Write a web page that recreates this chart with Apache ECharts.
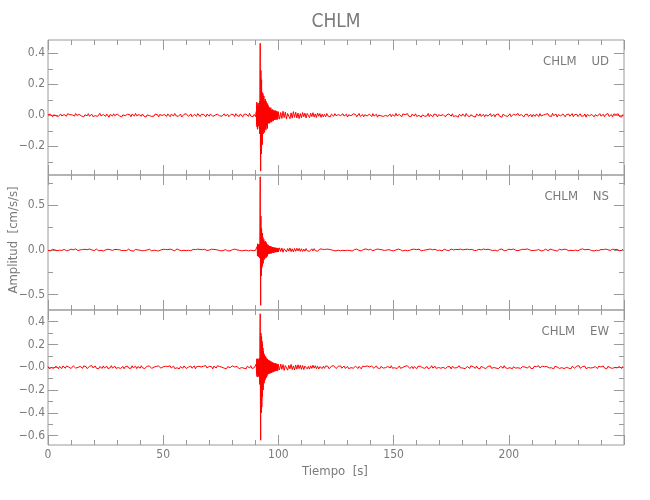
<!DOCTYPE html>
<html>
<head>
<meta charset="utf-8">
<script src="https://cdn.jsdelivr.net/npm/echarts@6.0.0/dist/echarts.min.js"></script>
<style>
html,body{margin:0;padding:0;background:#fff;}
#chart{width:650px;height:500px;}
</style>
</head>
<body>
<div id="chart"></div>
<script>
// ---------------- DATA ----------------
// Acceleration samples in mGal (1 mGal = 0.001 cm/s/s)
// Sampling: pre-event 0.0–89.5 s every 0.5 s; event 90.0–99.9 s every 0.1 s; post-event 100.0–249.5 s every 0.5 s
const PRE_START = 0.0, PRE_DT = 0.5;
const EVT_START = 90.0, EVT_DT = 0.1;
const POST_START = 100.0, POST_DT = 0.5;
const X_MAX = 249.99;

const componentNames = ['UD', 'NS', 'EW'];
const stationName = 'CHLM';

const udPre = [
3,-5,8,-2,-9,4,11,-3,6,-7,2,9,-4,-11,5,1,-6,10,-2,4,
-8,3,7,-5,12,-1,-9,6,2,-4,8,-10,3,5,-3,11,-6,0,7,-8,
4,-2,9,-7,1,13,-4,-9,5,2,-6,8,-1,-12,6,3,-5,10,-3,-7,
9,1,-4,6,-10,3,11,-2,-6,7,-1,4,-9,8,2,-5,12,-3,-8,5,
0,-6,9,-4,7,-11,3,6,-2,10,-7,1,-5,8,-3,4,-10,6,11,-1,
-8,5,2,-6,9,-3,-9,7,1,-4,12,-2,5,-7,3,8,-11,0,6,-5,
10,-2,-7,4,9,-9,1,6,-3,-6,11,2,-8,5,-1,7,-4,-10,8,3,
-5,9,-2,-7,4,1,-11,7,5,-3,8,-6,2,10,-4,-1,6,-9,3,7,
-3,5,-8,11,-2,4,-6,9,1,-10,6,-4,8,2,-7,13,-5,3,-9,6];
const udEvt = [
5,-8,6,-3,
25,-60,85,-75,55,-90,70,-50,80,-65,45,-70,60,-85,90,
-120,250,465,-200,-360,290,180,-250,230,-170,150,-190,130,-110,140,-120,
115,-100,125,-90,80,-110,95,-75,105,-85,70,-95,90,-65,80,-70,60,-85,75,-55,65,
-50,45,-40,55,-35,48,-52,30,-45,42,-38,50,-30,36,-44,28,-40,34,-25,38,
-32,27,-36,30,-22,33,-28,24,-30,20,-26,31,-18,25,-29,22,-17,28,-24,19,-27,15,-21,24];
const udPost = [
22,-25,18,-20,26,-15,21,-24,12,19,-22,16,-18,24,-13,20,-17,14,-21,11,
-16,18,-9,14,-17,12,6,-15,13,-8,17,-11,9,-14,15,-6,11,-13,8,-10,
6,-9,12,-4,3,-10,8,1,-6,11,-3,-8,5,9,-2,-7,10,-5,2,7,
-11,4,8,-3,-6,10,-1,5,-9,3,12,-7,-2,6,-10,4,9,-4,-6,8,
1,-8,11,-5,3,7,-12,2,6,-3,9,-7,4,-1,10,-6,-4,8,-9,5,
2,-6,13,-3,-8,6,1,-10,9,-2,4,-7,11,-5,3,-9,7,2,-4,10,
-7,5,-1,8,-11,3,9,-6,2,-4,12,-8,5,1,-9,7,-3,6,-10,4,
11,-2,-7,5,8,-10,3,-4,9,1,-6,10,-8,4,-2,7,-12,6,3,-5,
9,-3,-8,12,-1,5,-9,4,7,-6,2,-11,8,3,-4,10,-7,1,6,-9,
4,8,-5,-2,11,-8,3,6,-10,5,-1,9,-6,2,-12,7,4,-3,8,-7,
-4,10,-9,3,7,-5,1,-8,12,-2,-6,5,9,-11,4,-3,8,-7,2,6,
-10,5,3,-6,9,-1,-8,11,-4,6,2,-9,7,-3,10,-5,1,-7,13,-2,
-5,8,-11,4,6,-3,-7,9,2,-10,5,-1,8,-6,3,11,-9,4,-2,7,
-8,3,10,-6,1,-4,9,-12,5,7,-3,-8,6,2,-10,4,8,-5,-1,11,
-6,2,7,-9,4,-3,12,-7,1,5,-10,8,-2,6,-4,9,-8,3,-11,6];

const nsPre = [
-4,7,-10,3,8,-6,1,11,-8,5,-2,9,-5,-11,6,2,-7,10,-3,4,
9,-5,2,-8,12,-3,-6,7,1,-10,5,-1,8,-4,3,-9,11,-6,2,6,
-7,4,10,-2,-9,5,-3,8,-11,6,1,-5,9,-8,3,12,-4,-6,7,-1,
5,-10,3,8,-6,2,-4,11,-7,4,9,-2,-8,6,-12,3,7,-5,1,10,
-3,6,-9,2,-5,11,-1,-7,8,4,-10,5,-2,9,-6,3,-11,7,1,-4,
8,-3,6,-11,4,-2,10,-6,1,7,-9,3,12,-5,-1,6,-8,2,-4,9,
-6,11,-3,4,-8,1,7,-10,5,-2,9,-4,6,-7,3,-12,8,2,-5,10,
-1,-7,9,-4,6,-10,3,8,-2,5,-9,11,-6,1,4,-3,-8,7,-11,6,
3,-5,10,-8,2,7,-4,1,-9,12,-6,4,-2,8,-10,5,-3,9,-7,2];
const nsEvt = [
-6,9,-4,7,-10,5,3,-8,
40,-65,70,-55,45,-75,60,-40,65,-70,55,
-90,300,820,-150,-620,380,150,-290,240,-200,160,-180,190,-120,140,-150,
110,-95,120,-100,85,-105,90,-80,100,-70,75,-90,85,-60,70,-75,55,-65,60,-50,58,
-45,40,-38,48,-35,42,-44,30,-40,36,-32,44,-28,35,-38,26,-34,30,-24,33,
-29,25,-31,27,-20,29,-25,22,-27,18,-23,26,-16,22,-25,19,-15,24,-21,17,-23,14,-19,21];
const nsPost = [
-20,24,-17,21,-25,14,19,-22,16,-12,23,-18,13,-21,17,-15,20,-11,18,-16,
14,-17,10,-13,16,-9,12,-15,7,13,-11,15,-8,10,-14,6,12,-10,9,-12,
5,-8,10,-3,7,-11,2,9,-6,4,-10,8,-2,6,-9,11,-4,3,-7,8,
-3,9,-6,2,-11,7,4,-8,10,-1,-5,8,-9,3,6,-4,12,-7,1,-6,
8,-2,-9,5,3,-7,11,-4,6,-10,2,7,-5,9,-1,-8,4,10,-6,3,
-9,6,1,-4,10,-7,3,8,-11,5,-2,6,-8,12,-3,-5,7,-1,9,-10,
4,-6,9,-2,-8,11,-4,5,1,-9,7,-3,10,-6,2,-11,8,3,-5,6,
-1,7,-10,4,8,-5,-2,9,-7,3,11,-8,1,-4,6,-9,5,-3,10,-6,
2,-7,6,-11,9,-1,4,-8,7,-3,-6,10,-5,2,8,-9,1,-4,11,-7,
5,-3,8,-10,2,6,-7,4,-1,9,-12,3,7,-5,10,-2,-8,6,-4,1,
9,-6,3,-9,11,-4,-2,7,-8,5,1,-10,8,-3,6,-7,12,-5,2,-1,
-8,10,-4,6,-2,-9,5,3,-11,8,-6,1,9,-3,-7,4,10,-8,2,5,
-5,7,-12,3,8,-6,1,-4,9,-10,6,2,-8,11,-3,5,-7,4,-1,8,
-10,3,6,-5,12,-8,2,-3,7,-9,4,10,-6,1,-11,8,-2,5,-7,3,
6,-9,4,-1,10,-7,3,8,-5,-2,9,-11,5,-4,7,1,-8,6,-3,9];

const ewPre = [
8,-12,5,-3,14,-9,2,10,-6,-13,7,4,-10,12,-2,-8,11,-5,3,9,
-11,6,13,-4,-7,10,-1,-14,8,5,-9,12,-3,6,-12,2,9,-7,15,-5,
-2,11,-8,4,-13,7,3,-10,12,-6,1,9,-11,5,-4,14,-7,-2,10,-9,
6,-3,12,-10,2,8,-13,5,-1,11,-7,4,-9,13,-5,-2,10,-12,7,3,
-8,14,-4,6,-11,1,9,-6,12,-3,-10,7,2,-13,8,-5,11,-1,-7,10,
4,-12,9,-2,7,-9,13,-6,3,10,-11,5,-4,8,-14,6,1,-8,12,-3,
-10,7,2,-5,11,-8,4,12,-13,6,-1,9,-7,3,-11,10,-4,14,-6,2,
8,-9,5,-14,10,-2,-6,13,-4,7,-10,1,11,-8,4,-12,6,9,-3,-7,
12,-5,3,-9,7,11,-12,4,-2,10,-8,6,-13,9,1,-6,14,-10,5,-4];
const ewEvt = [
6,-10,8,-4,
30,-55,75,-80,60,-85,70,-60,76,-70,50,-82,65,-75,80,
-150,280,470,-300,-640,300,250,-400,270,-350,230,-260,200,-180,170,-200,
140,-130,120,-140,110,-120,100,-110,90,-100,95,-85,80,-90,70,-80,75,-65,70,-60,65,
-60,55,-50,62,-45,58,-55,40,-52,48,-45,55,-38,44,-50,35,-46,40,-32,45,
-38,33,-42,36,-28,38,-34,30,-36,25,-32,35,-24,30,-33,27,-22,32,-28,24,-30,20,-26,28];
const ewPost = [
26,-22,28,-18,24,-27,15,21,-25,18,-14,26,-20,12,-23,19,-16,22,-12,20,
-18,15,-20,11,17,-14,8,-16,13,-10,18,-7,14,-12,10,-15,6,13,-11,9,
-9,12,-5,8,-13,3,10,-7,14,-2,-11,6,9,-4,12,-8,1,11,-10,5,
7,-12,4,-3,13,-8,2,10,-6,-11,8,5,-14,9,-1,6,-10,12,-4,3,
-7,11,-2,-9,6,13,-5,1,-12,8,4,-7,10,-3,-13,7,2,-6,14,-8,
5,-4,9,-11,3,12,-9,6,-1,-8,10,-5,13,-2,-10,4,8,-12,6,1,
-13,7,2,10,-6,-3,11,-9,5,8,-12,1,-4,14,-7,3,9,-10,4,-2,
10,-8,5,-1,12,-11,3,6,-9,4,-14,8,2,-6,11,-3,-7,13,-5,1,
-6,9,-12,4,7,-2,-10,13,-4,6,1,-9,11,-7,3,-13,8,5,-3,10,
-11,2,8,-5,12,-9,4,-2,10,-7,6,-12,3,9,-1,-8,14,-4,2,-10,
7,-3,11,-13,5,1,-7,9,-4,12,-10,3,6,-8,2,13,-6,-1,10,-9,
4,-11,8,-2,6,-7,13,-5,-9,10,-3,5,-12,7,1,-6,11,-4,8,-14,
9,-6,2,12,-10,4,-3,8,-11,6,-1,10,-7,3,-13,9,5,-8,2,11,
-4,13,-9,1,7,-5,10,-12,4,-2,8,-6,11,-3,-10,6,2,-11,9,-7,
3,-8,12,-6,5,-13,8,1,-4,10,-9,7,-2,11,-5,-12,6,4,-10,8];

// Axis ranges (cm/s/s) and tick values / labels
const udRange = [-0.385, 0.486];
const nsRange = [-0.672, 0.840];
const ewRange = [-0.682, 0.503];
const udMajorTicks = [-0.2, 0.0, 0.2, 0.4];
const udMajorLabels = ['\u22120.2', '0.0', '0.2', '0.4'];
const udMinorTicks = [-0.3, -0.1, 0.1, 0.3];
const nsMajorTicks = [-0.5, 0.0, 0.5];
const nsMajorLabels = ['\u22120.5', '0.0', '0.5'];
const nsMinorTicks = [-0.25, 0.25, 0.75];
const ewMajorTicks = [-0.6, -0.4, -0.2, 0.0, 0.2, 0.4];
const ewMajorLabels = ['\u22120.6', '\u22120.4', '\u22120.2', '\u22120.0', '0.2', '0.4'];
const ewMinorTicks = [-0.5, -0.3, -0.1, 0.1, 0.3];
const xMajorInterval = 50;

const chartTitle = 'CHLM';
const xAxisTitle = 'Tiempo  [s]';
const yAxisTitle = 'Amplitud  [cm/s/s]';

// ---------------- BUILD ----------------
function buildTrace(pre, evt, post) {
  const pts = [];
  pre.forEach((v, i) => pts.push([+(PRE_START + i * PRE_DT).toFixed(3), v / 1000]));
  evt.forEach((v, i) => pts.push([+(EVT_START + i * EVT_DT).toFixed(3), v / 1000]));
  post.forEach((v, i) => pts.push([+(POST_START + i * POST_DT).toFixed(3), v / 1000]));
  return pts;
}

const panels = [
  {comp: componentNames[0], data: buildTrace(udPre, udEvt, udPost), range: udRange, major: udMajorTicks, labels: udMajorLabels, minor: udMinorTicks},
  {comp: componentNames[1], data: buildTrace(nsPre, nsEvt, nsPost), range: nsRange, major: nsMajorTicks, labels: nsMajorLabels, minor: nsMinorTicks},
  {comp: componentNames[2], data: buildTrace(ewPre, ewEvt, ewPost), range: ewRange, major: ewMajorTicks, labels: ewMajorLabels, minor: ewMinorTicks}
];

const FONT = "'Liberation Sans Narrow', 'DejaVu Sans Condensed', sans-serif";
const AXIS_COLOR = '#9a9a9a';
const TEXT_COLOR = '#7a7a7a';
const LEFT = 48, RIGHT = 26, TOP = 40, PANEL_H = 135;

const grids = [], xAxes = [], yAxes = [], series = [], graphics = [];

panels.forEach((p, g) => {
  grids.push({left: LEFT, right: RIGHT, top: TOP + g * PANEL_H, height: PANEL_H,
    show: true, borderColor: AXIS_COLOR, borderWidth: 1, backgroundColor: 'transparent', containLabel: false});

  ['bottom', 'top'].forEach(pos => {
    xAxes.push({
      gridIndex: g, type: 'value', position: pos, min: 0, max: X_MAX, interval: xMajorInterval,
      axisLine: {show: false, onZero: false},
      splitLine: {show: false}, minorSplitLine: {show: false},
      axisTick: {show: true, inside: true, length: 10, lineStyle: {color: AXIS_COLOR, width: 1}},
      minorTick: {show: true, splitNumber: 5, length: 5, lineStyle: {color: AXIS_COLOR, width: 1}},
      axisLabel: {show: pos === 'bottom' && g === panels.length - 1, showMaxLabel: false, margin: 4,
        color: TEXT_COLOR, fontFamily: FONT, fontSize: 12}
    });
  });

  ['left', 'right'].forEach(pos => {
    [['major', 10], ['minor', 5]].forEach(([kind, len]) => {
      const vals = kind === 'major' ? p.major : p.minor;
      yAxes.push({
        gridIndex: g, type: 'value', position: pos, min: p.range[0], max: p.range[1],
        axisLine: {show: false}, splitLine: {show: false},
        axisTick: {show: true, inside: true, length: len, customValues: vals, lineStyle: {color: AXIS_COLOR, width: 1}},
        axisLabel: {show: pos === 'left' && kind === 'major', customValues: vals, margin: 3,
          color: TEXT_COLOR, fontFamily: FONT, fontSize: 12,
          formatter: (v) => {
            const idx = p.major.findIndex(m => Math.abs(m - v) < 1e-9);
            return idx >= 0 ? p.labels[idx] : '';
          }}
      });
    });
  });

  series.push({
    type: 'line', xAxisIndex: g * 2, yAxisIndex: g * 4, data: p.data,
    showSymbol: false, symbol: 'none', sampling: null, animation: false, silent: true,
    lineStyle: {color: '#ff0000', width: 1}
  });

  graphics.push({type: 'text', x: 609, y: TOP + g * PANEL_H + 22,
    style: {text: stationName + '    ' + p.comp, align: 'right', verticalAlign: 'middle',
      fill: TEXT_COLOR, font: '13px ' + FONT}});
});

graphics.push({type: 'text', x: 336, y: 22,
  style: {text: chartTitle, align: 'center', verticalAlign: 'middle', fill: TEXT_COLOR, font: '19px ' + FONT}});
graphics.push({type: 'text', x: 335, y: 472,
  style: {text: xAxisTitle, align: 'center', verticalAlign: 'middle', fill: TEXT_COLOR, font: '13px ' + FONT}});
graphics.push({type: 'text', x: 14, y: 240, rotation: Math.PI / 2,
  style: {text: yAxisTitle, align: 'center', verticalAlign: 'middle', fill: TEXT_COLOR, font: '13px ' + FONT}});

const chart = echarts.init(document.getElementById('chart'), null, {renderer: 'canvas'});
chart.setOption({
  animation: false,
  backgroundColor: '#ffffff',
  grid: grids, xAxis: xAxes, yAxis: yAxes, series: series, graphic: graphics
});
</script>
</body>
</html>
